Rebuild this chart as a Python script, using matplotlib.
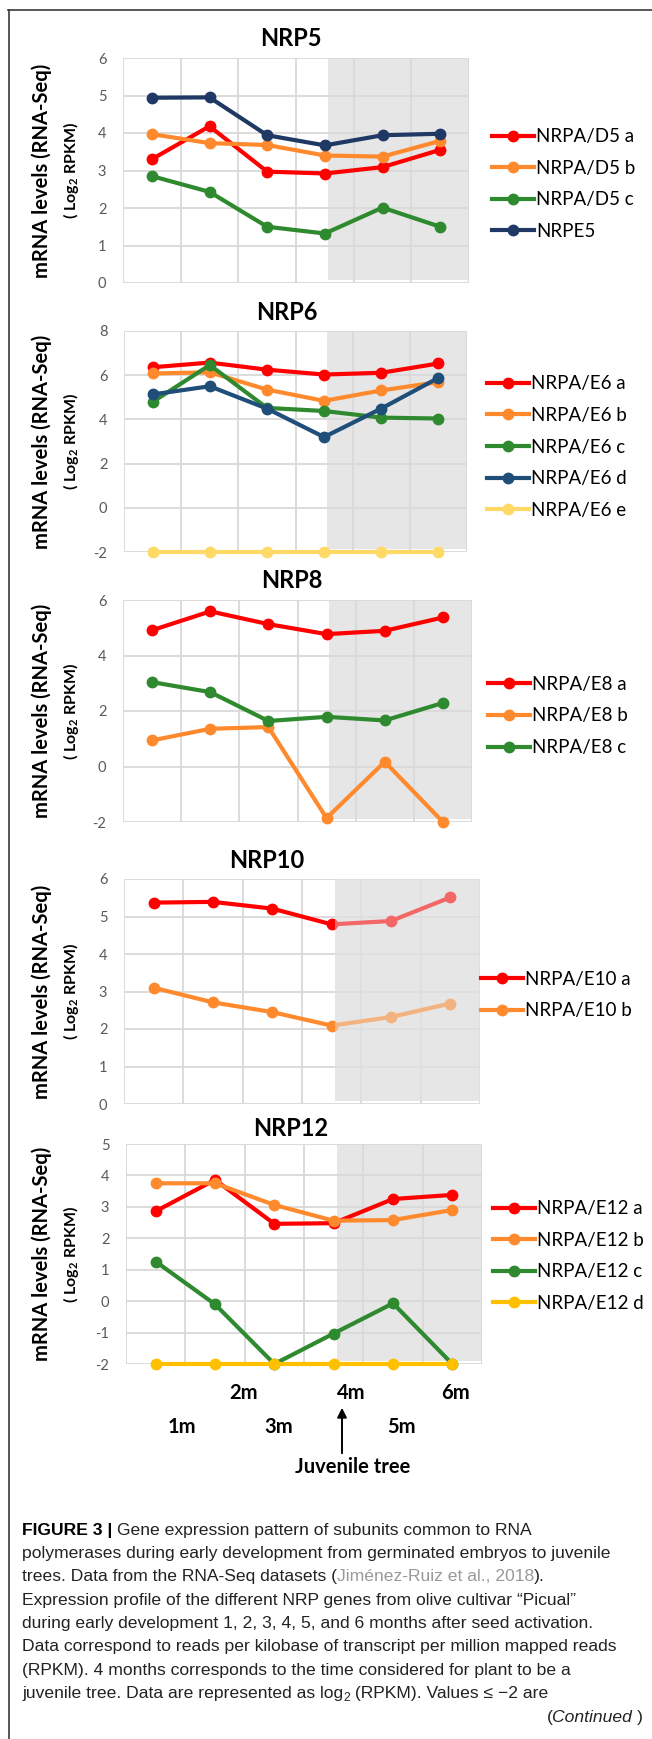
import numpy as np
import matplotlib
matplotlib.use('Agg')
import matplotlib.pyplot as plt
from matplotlib.lines import Line2D

W, H = 652, 1739

plt.rcParams['font.family'] = ['Lato', 'DejaVu Sans']
plt.rcParams['mathtext.fontset'] = 'custom'
plt.rcParams['mathtext.bf'] = 'Lato:bold'
plt.rcParams['mathtext.rm'] = 'Lato'
plt.rcParams['axes.unicode_minus'] = False

# months after seed activation
months = [1, 2, 3, 4, 5, 6]

# NRP5
d5_a = [3.30, 4.18, 2.97, 2.92, 3.09, 3.55]
d5_b = [3.97, 3.73, 3.68, 3.40, 3.37, 3.79]
d5_c = [2.85, 2.43, 1.50, 1.32, 2.01, 1.50]
e5 = [4.94, 4.95, 3.94, 3.67, 3.94, 3.98]

# NRP6
e6_a = [6.36, 6.57, 6.25, 6.03, 6.11, 6.53]
e6_b = [6.08, 6.13, 5.35, 4.84, 5.31, 5.69]
e6_c = [4.79, 6.46, 4.52, 4.38, 4.08, 4.04]
e6_d = [5.13, 5.50, 4.49, 3.20, 4.49, 5.88]
e6_e = [-2, -2, -2, -2, -2, -2]

# NRP8
e8_a = [4.91, 5.59, 5.13, 4.77, 4.89, 5.37]
e8_b = [0.94, 1.36, 1.42, -1.86, 0.17, -2.0]
e8_c = [3.04, 2.68, 1.64, 1.79, 1.66, 2.29]

# NRP10
e10_a = [5.37, 5.39, 5.21, 4.79, 4.88, 5.51]
e10_b = [3.10, 2.71, 2.45, 2.09, 2.32, 2.68]

# NRP12
e12_a = [2.86, 3.86, 2.46, 2.48, 3.25, 3.38]
e12_b = [3.75, 3.75, 3.06, 2.56, 2.58, 2.90]
e12_c = [1.26, -0.10, -2.0, -1.03, -0.07, -2.0]
e12_d = [-2, -2, -2, -2, -2, -2]

RED = '#ff0000'
ORANGE = '#ff8a2e'
GREEN = '#2f8a2f'
NAVY = '#1f3864'
BLUE = '#1f4e79'
LYELLOW = '#ffd966'
GOLD = '#ffc000'
SHADE = '#e6e6e6'

fig = plt.figure(figsize=(W / 100, H / 100), dpi=100)


def fx(px):
    return px / W


def fy(py):
    return 1 - py / H


def add_panel(title, series, ylim, ystep, box, title_x, title_y, leg_x, leg_y, overlay=False):
    l, r, t, b = box
    ax = fig.add_axes([fx(l), fy(b), (r - l) / W, (b - t) / H])
    ax.set_xlim(0.5, 6.5)
    ax.set_ylim(*ylim)
    ax.set_yticks(np.arange(ylim[0], ylim[1] + 0.01, ystep))
    ax.set_xticks(np.arange(0.5, 6.6, 1))
    ax.set_xticklabels([])
    ax.tick_params(length=0, labelsize=10.5, labelcolor='#595959', pad=12)
    ax.grid(True, color='#d9d9d9', lw=1.3)
    ax.set_axisbelow(True)
    for s in ax.spines.values():
        s.set_visible(False)
    ax.axvspan(4.05, 6.5, ymin=0.012, ymax=1, color=SHADE, lw=0, zorder=0.2)
    for name, vals, col in series:
        ax.plot(months, vals, color=col, lw=3.0, marker='o', ms=7.5,
                label=name, clip_on=False, zorder=3)
    if overlay:
        ax.axvspan(4.05, 6.5, ymin=0.012, ymax=1, color=SHADE, alpha=0.45, lw=0, zorder=4)
    ax.legend(loc='center left', bbox_to_anchor=(fx(leg_x), fy(leg_y)),
              bbox_transform=fig.transFigure, frameon=False, fontsize=13.5,
              handlelength=2.25, handletextpad=0.12, labelspacing=0.78,
              borderpad=0, borderaxespad=0)
    fig.text(fx(title_x), fy(title_y), title, ha='center', va='center',
             fontsize=17, fontweight='bold')
    yc = (t + b) / 2
    fig.text(fx(42), fy(yc), 'mRNA levels (RNA-Seq)', rotation=90, ha='center',
             va='center', fontsize=14.5, fontweight='bold')
    fig.text(fx(71), fy(yc), r'( Log$_\mathbf{2}$ RPKM)', rotation=90, ha='center',
             va='center', fontsize=11.5, fontweight='bold')
    return ax


add_panel('NRP5', [('NRPA/D5 a', d5_a, RED), ('NRPA/D5 b', d5_b, ORANGE),
                   ('NRPA/D5 c', d5_c, GREEN), ('NRPE5', e5, NAVY)],
          (0, 6), 1, (123, 469, 58, 283), 291, 38, 492, 184)

add_panel('NRP6', [('NRPA/E6 a', e6_a, RED), ('NRPA/E6 b', e6_b, ORANGE),
                   ('NRPA/E6 c', e6_c, GREEN), ('NRPA/E6 d', e6_d, BLUE),
                   ('NRPA/E6 e', e6_e, LYELLOW)],
          (-2, 8), 2, (124, 467, 331, 552), 287, 312, 487, 447)

add_panel('NRP8', [('NRPA/E8 a', e8_a, RED), ('NRPA/E8 b', e8_b, ORANGE),
                   ('NRPA/E8 c', e8_c, GREEN)],
          (-2, 6), 2, (123, 472, 600, 822), 292, 581, 488, 716)

add_panel('NRP10', [('NRPA/E10 a', e10_a, RED), ('NRPA/E10 b', e10_b, ORANGE)],
          (0, 6), 1, (124, 480, 879, 1104), 267, 860, 481, 995, overlay=True)

ax12 = add_panel('NRP12', [('NRPA/E12 a', e12_a, RED), ('NRPA/E12 b', e12_b, ORANGE),
                           ('NRPA/E12 c', e12_c, GREEN), ('NRPA/E12 d', e12_d, GOLD)],
                 (-2, 5), 1, (126, 482, 1144, 1364), 291, 1128, 493, 1256)

# month labels under the last panel
for lab, px, py in [('2m', 243, 1393), ('4m', 351, 1393), ('6m', 455, 1393),
                    ('1m', 182, 1427), ('3m', 279, 1427), ('5m', 401, 1427)]:
    fig.text(fx(px), fy(py), lab, ha='center', va='center', fontsize=14.5, fontweight='bold')

ax12.annotate('', xy=(fx(342), fy(1405)), xytext=(fx(342), fy(1456)),
              xycoords='figure fraction', textcoords='figure fraction',
              arrowprops=dict(arrowstyle='-|>', color='black', lw=1.4, mutation_scale=14))
fig.text(fx(353), fy(1467), 'Juvenile tree', ha='center', va='center',
         fontsize=14.5, fontweight='bold')

# frame
fig.add_artist(Line2D([fx(8), 1], [fy(10), fy(10)], transform=fig.transFigure,
                      color='#3a3a3a', lw=1.2))
fig.add_artist(Line2D([fx(9), fx(9)], [fy(10), 0], transform=fig.transFigure,
                      color='#3a3a3a', lw=1.2))

# caption
CAP = ['Liberation Sans', 'DejaVu Sans']
cap_size = 12.6
renderer = fig.canvas.get_renderer()
GRAY = '#999999'

caption = [
    [('FIGURE 3 | ', 'bold', 'black'), ('Gene expression pattern of subunits common to RNA', 'normal', '#222222')],
    [('polymerases during early development from germinated embryos to juvenile', 'normal', '#222222')],
    [('trees. Data from the RNA-Seq datasets (', 'normal', '#222222'),
     ('Jiménez-Ruiz et al., 2018', 'normal', GRAY), (').', 'normal', '#222222')],
    [('Expression profile of the different NRP genes from olive cultivar \u201cPicual\u201d', 'normal', '#222222')],
    [('during early development 1, 2, 3, 4, 5, and 6 months after seed activation.', 'normal', '#222222')],
    [('Data correspond to reads per kilobase of transcript per million mapped reads', 'normal', '#222222')],
    [('(RPKM). 4 months corresponds to the time considered for plant to be a', 'normal', '#222222')],
    [('juvenile tree. Data are represented as log', 'normal', '#222222'), ('2', 'sub', '#222222'),
     (' (RPKM). Values \u2264 \u22122 are', 'normal', '#222222')],
]
y0 = 1530
for i, segs in enumerate(caption):
    x = 22
    y = y0 + i * 23.4
    for txt, wt, col in segs:
        if wt == 'sub':
            t = fig.text(fx(x), fy(y + 4), txt, ha='left', va='center', family=CAP,
                         fontsize=cap_size * 0.7, color=col)
        else:
            t = fig.text(fx(x), fy(y), txt, ha='left', va='center', family=CAP,
                         fontsize=cap_size, fontweight=wt, color=col)
        bb = t.get_window_extent(renderer)
        x = bb.x1 * W / fig.bbox.width

# (Continued) right aligned
xr = 643
ycont = y0 + 8 * 23.4
for txt, st in [(')', 'normal'), ('Continued ', 'italic'), ('(', 'normal')]:
    t = fig.text(fx(xr), fy(ycont), txt, ha='right', va='center', family=CAP,
                 fontsize=cap_size, fontstyle=st, color='#222222')
    bb = t.get_window_extent(renderer)
    xr = bb.x0 * W / fig.bbox.width

fig.savefig('out.png', dpi=100)
